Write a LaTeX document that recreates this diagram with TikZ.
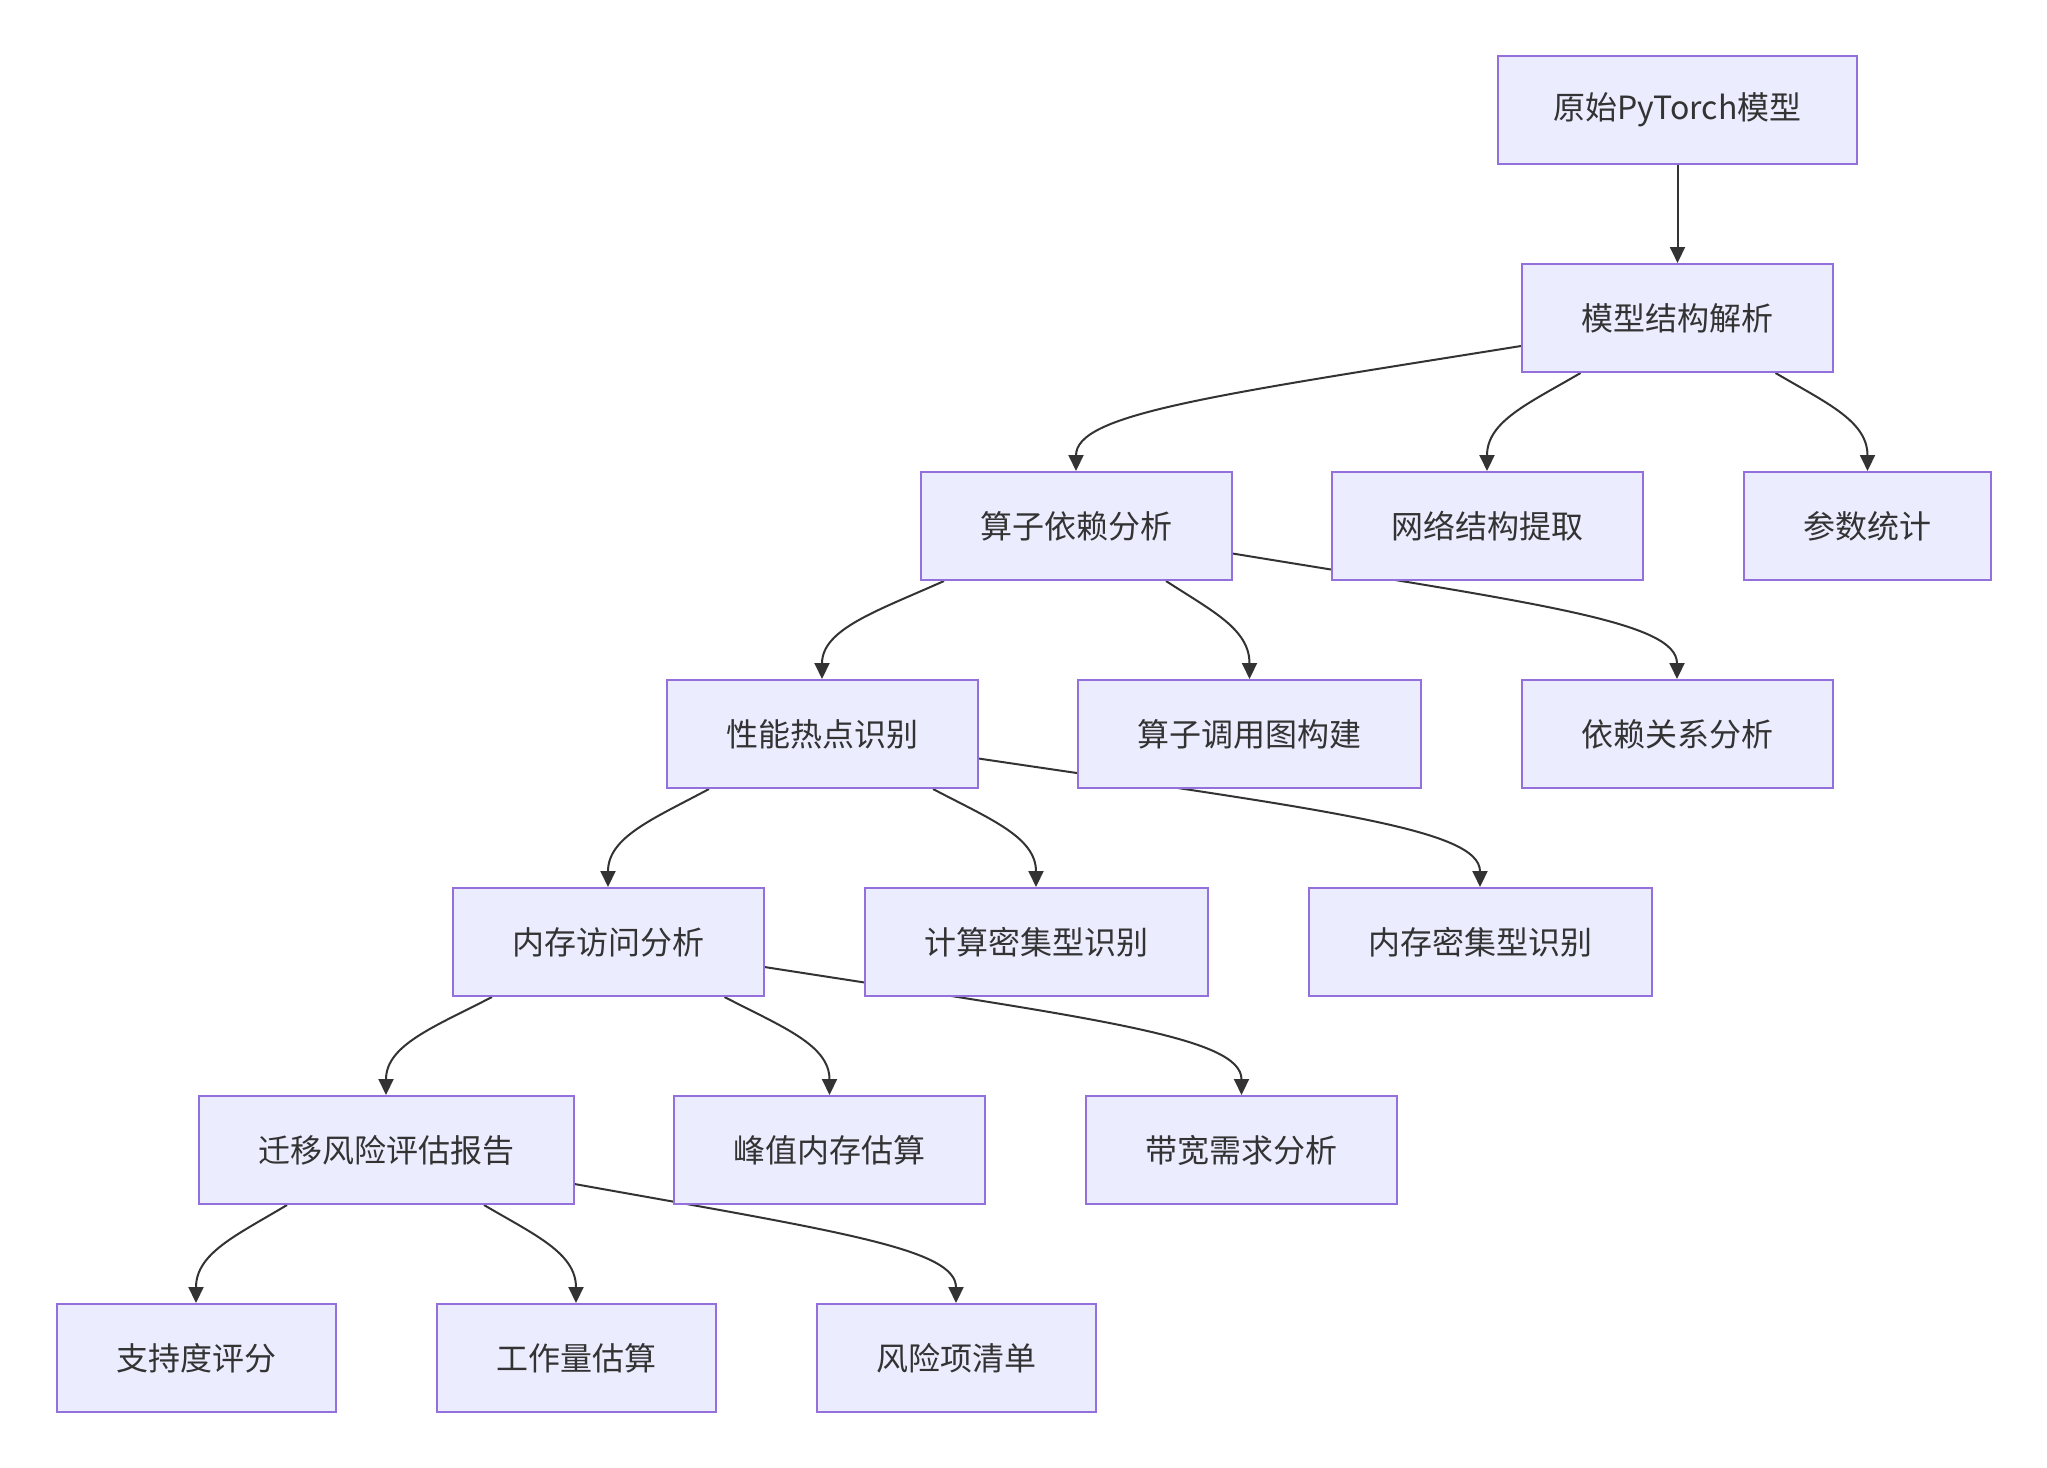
\documentclass[tikz,border=0pt]{standalone}
\usepackage{fontspec}
\setmainfont{Noto Sans CJK SC}
\usetikzlibrary{arrows.meta}
\definecolor{boxfill}{HTML}{ECECFF}
\definecolor{boxline}{HTML}{9370DB}
\definecolor{ink}{HTML}{333333}
\pgfdeclarelayer{background}
\pgfsetlayers{background,main}
\tikzset{
  box/.style={draw=boxline, fill=boxfill, line width=2pt, text=ink,
    minimum height=108pt, inner xsep=59.5pt, inner ysep=0pt,
    font=\fontsize{32pt}{38pt}\selectfont},
  link/.style={draw=ink, line width=2pt, -{Triangle[length=16pt,width=15pt]}}
}
\begin{document}
\begin{tikzpicture}[x=1pt,y=-1pt]
\useasboundingbox (0,0) rectangle (2047,1467);
\node[box, inner xsep=55.5pt] (b1) at (1677.5,110) {原始PyTorch模型};
\node[box] (b2) at (1677.5,318) {模型结构解析};
\node[box] (b3) at (1076,526) {算子依赖分析};
\node[box] (b4) at (1487,526) {网络结构提取};
\node[box] (b5) at (1867.5,526) {参数统计};
\node[box] (b6) at (822,734) {性能热点识别};
\node[box] (b7) at (1249.5,734) {算子调用图构建};
\node[box] (b8) at (1677,734) {依赖关系分析};
\node[box] (b9) at (608,942) {内存访问分析};
\node[box] (b10) at (1036,942) {计算密集型识别};
\node[box] (b11) at (1480,942) {内存密集型识别};
\node[box] (b12) at (386,1150) {迁移风险评估报告};
\node[box] (b13) at (829.5,1150) {峰值内存估算};
\node[box] (b14) at (1241.5,1150) {带宽需求分析};
\node[box] (b15) at (196,1358) {支持度评分};
\node[box] (b16) at (576,1358) {工作量估算};
\node[box] (b17) at (956,1358) {风险项清单};
\begin{pgfonlayer}{background}
\draw[link] (b1.south) -- (b2.north);
% level b2
\draw[link] ([yshift=-28pt]b2.west) .. controls +(-312,50) and +(0,-57) .. (b3.north);
\draw[link] ([xshift=-97pt]b2.south) .. controls +(-51,30) and +(0,-50) .. (b4.north);
\draw[link] ([xshift=98pt]b2.south) .. controls +(51,30) and +(0,-50) .. (b5.north);
% level b3
\draw[link] ([xshift=-132pt]b3.south) .. controls +(-67,30) and +(0,-50) .. (b6.north);
\draw[link] ([xshift=90pt]b3.south) .. controls +(46,30) and +(0,-50) .. (b7.north);
\draw[link] ([yshift=-27.5pt]b3.east) .. controls +(312,51) and +(0,-57) .. (b8.north);
% level b6
\draw[link] ([xshift=-113pt]b6.south) .. controls +(-56,30) and +(0,-50) .. (b9.north);
\draw[link] ([xshift=111pt]b6.south) .. controls +(57,30) and +(0,-50) .. (b10.north);
\draw[link] ([yshift=-24.5pt]b6.east) .. controls +(351,52) and +(0,-58) .. (b11.north);
% level b9
\draw[link] ([xshift=-116pt]b9.south) .. controls +(-58,30) and +(0,-50) .. (b12.north);
\draw[link] ([xshift=116.5pt]b9.south) .. controls +(58,30) and +(0,-50) .. (b13.north);
\draw[link] ([yshift=-25pt]b9.east) .. controls +(334,52) and +(0,-58) .. (b14.north);
% level b12
\draw[link] ([xshift=-99pt]b12.south) .. controls +(-50,30) and +(0,-50) .. (b15.north);
\draw[link] ([xshift=98pt]b12.south) .. controls +(51,30) and +(0,-50) .. (b16.north);
\draw[link] ([yshift=-34pt]b12.east) .. controls +(268,48) and +(0,-54) .. (b17.north);
\end{pgfonlayer}
\end{tikzpicture}
\end{document}
